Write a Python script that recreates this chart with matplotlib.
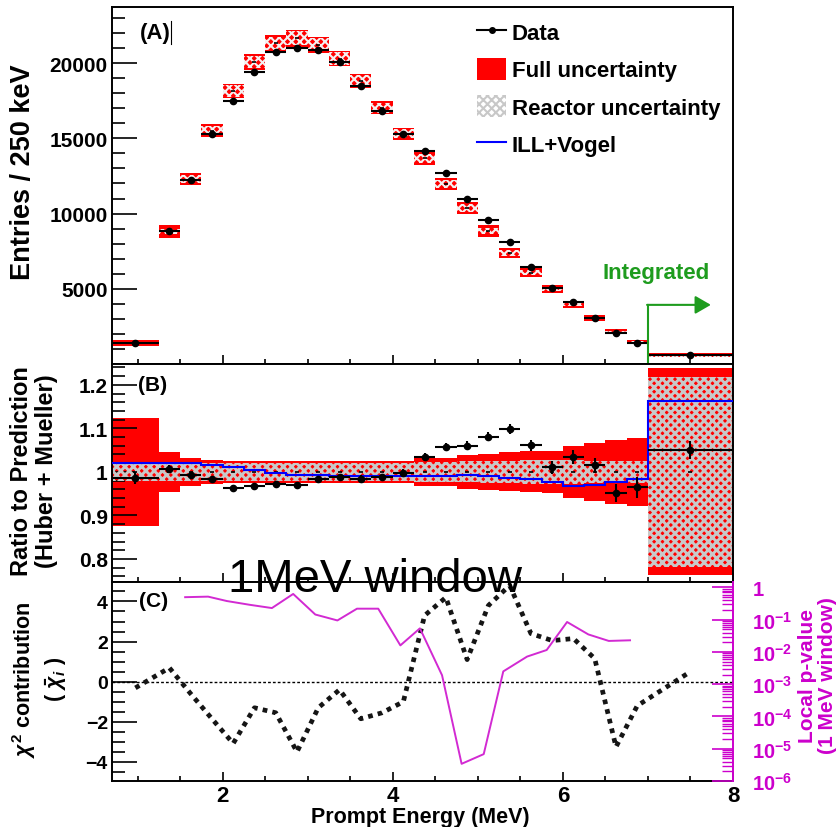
import matplotlib
matplotlib.use('Agg')
import matplotlib.pyplot as plt
import numpy as np
from matplotlib.lines import Line2D
from matplotlib.patches import Patch
from matplotlib.ticker import MultipleLocator, FixedLocator, LogLocator, FuncFormatter, NullFormatter

plt.rcParams['font.family'] = ['Liberation Sans', 'DejaVu Sans']
plt.rcParams['font.weight'] = 'bold'
plt.rcParams['mathtext.fontset'] = 'custom'
plt.rcParams['mathtext.rm'] = 'Liberation Sans:bold'
plt.rcParams['mathtext.bf'] = 'Liberation Sans:bold'
plt.rcParams['mathtext.it'] = 'Liberation Sans:italic'
plt.rcParams['hatch.linewidth'] = 1.5
plt.rcParams['axes.linewidth'] = 1.4

# binning: wide first bin, 250 keV bins up to 7 MeV, one integrated bin 7-8 MeV
bin_edges = np.concatenate([[0.7], np.arange(1.25, 7.01, 0.25), [8.0]])
centers = (bin_edges[:-1] + bin_edges[1:]) / 2
half_w = np.diff(bin_edges) / 2

data_counts = [1380, 8870, 12200, 15270, 17470, 19420, 20710, 20980, 20890, 20050,
               18490, 16820, 15270, 14150, 12670, 11000, 9560, 8090, 6450, 5050,
               4090, 3090, 2050, 1420, 600]
ratio = [0.986, 1.007, 0.993, 0.984, 0.963, 0.967, 0.972, 0.969, 0.984, 0.988,
         0.984, 0.988, 0.997, 1.035, 1.057, 1.060, 1.081, 1.098, 1.061, 1.011,
         1.034, 1.015, 0.951, 0.965, 1.050]
ratio_err = [0.013, 0.008, 0.007, 0.007, 0.007, 0.007, 0.007, 0.007, 0.007, 0.007,
             0.008, 0.008, 0.009, 0.009, 0.010, 0.010, 0.011, 0.012, 0.013, 0.015,
             0.016, 0.018, 0.021, 0.024, 0.021]
full_unc = [0.125, 0.046, 0.032, 0.028, 0.026, 0.026, 0.026, 0.026, 0.025, 0.025,
            0.025, 0.025, 0.026, 0.033, 0.033, 0.039, 0.042, 0.045, 0.047, 0.049,
            0.059, 0.067, 0.073, 0.079, 0.238]
reactor_unc = [0.021, 0.021, 0.021, 0.021, 0.021, 0.021, 0.021, 0.021, 0.021, 0.021,
               0.021, 0.021, 0.021, 0.023, 0.023, 0.024, 0.025, 0.026, 0.027, 0.027,
               0.027, 0.026, 0.026, 0.025, 0.218]
ill_vogel = [1.020, 1.020, 1.020, 1.016, 1.011, 1.005, 0.998, 0.993, 0.992, 0.991,
             0.990, 0.990, 0.990, 0.990, 0.990, 0.993, 0.990, 0.987, 0.984, 0.976,
             0.967, 0.970, 0.976, 0.984, 1.164]
chi_i = [-0.31, 0.69, -0.6, -1.85, -3.08, -1.3, -1.55, -3.5, -1.3, -0.4,
         -1.85, -1.55, -1.0, 3.3, 4.2, 1.1, 3.8, 4.8, 2.4, 2.05,
         2.15, 1.15, -3.25, -1.2, 0.5]
window_center = [1.56, 1.83, 2.05, 2.32, 2.58, 2.83, 3.09, 3.35, 3.58, 3.83, 4.09,
                 4.32, 4.58, 4.81, 5.07, 5.30, 5.58, 5.81, 6.05, 6.30, 6.54, 6.79]
local_p = [0.50, 0.52, 0.38, 0.29, 0.23, 0.63, 0.145, 0.095, 0.22, 0.22, 0.016,
           0.054, 0.0019, 3.4e-6, 6.8e-6, 0.0025, 0.0072, 0.0115, 0.085, 0.035,
           0.022, 0.023]

data_counts = np.array(data_counts, dtype=float)
ratio = np.array(ratio)
full_unc = np.array(full_unc)
reactor_unc = np.array(reactor_unc)
pred = data_counts / ratio
widths = np.diff(bin_edges)

mag = '#cc00cc'
green = '#1e9c1e'
hatch_grey = '#c8c8c8'

fig = plt.figure(figsize=(8.37, 8.28), dpi=100)
axA = fig.add_axes([0.1338, 0.5592, 0.7419, 0.4311])
axB = fig.add_axes([0.1338, 0.2959, 0.7419, 0.2633])
axC = fig.add_axes([0.1338, 0.0556, 0.7419, 0.2403])


def style_axis(ax, ymaj, ymin, ysize):
    ax.set_xlim(0.7, 8.0)
    ax.xaxis.set_major_locator(MultipleLocator(2))
    ax.xaxis.set_minor_locator(MultipleLocator(0.5))
    ax.tick_params(axis='x', which='major', direction='in', length=6.5, width=1.2,
                   labelsize=16, pad=3)
    ax.tick_params(axis='x', which='minor', direction='in', length=3.6, width=1.2)
    ax.tick_params(axis='y', which='major', direction='in', length=18, width=1.2,
                   labelsize=ysize, pad=3)
    ax.tick_params(axis='y', which='minor', direction='in', length=9.5, width=1.2)
    ax.yaxis.set_major_locator(ymaj)
    ax.yaxis.set_minor_locator(ymin)


# (A) spectrum with prediction boxes
axA.bar(bin_edges[:-1], 2 * pred * full_unc, bottom=pred * (1 - full_unc), width=widths,
        align='edge', color='red', lw=0, zorder=1)
axA.bar(bin_edges[:-1], 2 * pred * reactor_unc, bottom=pred * (1 - reactor_unc), width=widths,
        align='edge', facecolor='none', edgecolor='#f4f0f0', hatch='xxxx', lw=0, zorder=2)
axA.plot(centers, pred, ls='none', marker='_', ms=3, mew=1.2, color='k', zorder=3)
axA.errorbar(centers, data_counts, xerr=half_w, fmt='o', ms=4.5, color='k',
             elinewidth=1.5, capsize=0, zorder=4)
axA.set_ylim(0, 23730)
style_axis(axA, FixedLocator([5000, 10000, 15000, 20000]), MultipleLocator(1000), 15)
axA.tick_params(labelbottom=False)
axA.text(0.045, 0.93, '(A)', transform=axA.transAxes, fontsize=16, va='center')
axA.plot([0.095, 0.095], [0.896, 0.961], transform=axA.transAxes, color='k', lw=0.8)

# integrated region marker
axA.plot([7.0, 7.0], [0, 3930], color=green, lw=1.5, zorder=5)
axA.annotate('', xy=(7.74, 3930), xytext=(6.99, 3930),
             arrowprops=dict(arrowstyle='-|>,head_length=0.95,head_width=0.55',
                             color=green, lw=1.5, shrinkA=0, shrinkB=0), zorder=5)
axA.text(6.47, 6070, 'Integrated', color=green, fontsize=16, va='center', ha='left')

handles = [Line2D([], [], color='k', marker='o', ms=4, lw=1.5),
           Patch(facecolor='red', edgecolor='red', lw=0),
           Patch(facecolor='white', edgecolor=hatch_grey, hatch='xxxx', lw=0),
           Line2D([], [], color='blue', lw=1.5)]
axA.legend(handles, ['Data', 'Full uncertainty', 'Reactor uncertainty', 'ILL+Vogel'],
           loc='upper left', bbox_to_anchor=(0.588, 0.962), frameon=False,
           fontsize=16, handlelength=1.3, handleheight=1.15, handletextpad=0.25,
           labelspacing=0.62, borderpad=0, borderaxespad=0)

# (B) ratio to Huber + Mueller prediction
axB.bar(bin_edges[:-1], 2 * full_unc, bottom=1 - full_unc, width=widths,
        align='edge', color='red', lw=0, zorder=1)
with plt.rc_context({'hatch.linewidth': 2.1}):
    axB.bar(bin_edges[:-1], 2 * reactor_unc, bottom=1 - reactor_unc, width=widths,
            align='edge', facecolor='none', edgecolor=hatch_grey, hatch='xxxx', lw=0, zorder=2)
axB.plot(centers, np.ones_like(centers), ls='none', marker='_', ms=3, mew=1.2,
         color='k', zorder=3)
axB.stairs(ill_vogel, bin_edges, color='blue', lw=1.5, baseline=None, zorder=4)
axB.errorbar(centers, ratio, xerr=half_w, yerr=ratio_err, fmt='o', ms=4.5, color='k',
             elinewidth=1.5, capsize=0, zorder=5)
axB.set_ylim(0.747, 1.248)
style_axis(axB, MultipleLocator(0.1), MultipleLocator(0.02), 15)
axB.yaxis.set_major_formatter(FuncFormatter(lambda v, p: f'{v:g}'))
axB.tick_params(labelbottom=False)
axB.text(0.042, 0.908, '(B)', transform=axB.transAxes, fontsize=15, va='center')

# (C) chi contributions and local p-value
axC.plot(centers, chi_i, color='#151515', lw=3.4, ls=(0, (1, 1.1)), zorder=3)
axC.axhline(0, color='k', lw=1, ls=(0, (2, 1.5)), zorder=2)
axC.set_ylim(-4.95, 4.97)
style_axis(axC, MultipleLocator(2), MultipleLocator(0.5), 14)
axC.spines['right'].set_visible(False)
axC.text(0.043, 0.905, '(C)', transform=axC.transAxes, fontsize=15, va='center')

axR = axC.twinx()
axR.set_yscale('log')
axR.plot(window_center, local_p, color='#d22ad2', lw=1.4)
axR.set_ylim(1e-6, 10 ** 0.17)
axR.yaxis.set_major_locator(LogLocator(base=10, numticks=12))
axR.yaxis.set_minor_locator(LogLocator(base=10, subs=np.arange(2, 10), numticks=12))
axR.yaxis.set_minor_formatter(NullFormatter())


def p_label(v, pos):
    e = int(round(np.log10(v)))
    if e == 0:
        return '1'
    return r'$\mathbf{10^{%d}}$' % e


axR.yaxis.set_major_formatter(FuncFormatter(p_label))
axR.tick_params(axis='y', which='major', direction='in', length=15, width=1.2,
                colors=mag, labelsize=14.5, pad=14)
axR.tick_params(axis='y', which='minor', direction='in', length=8, width=1.0, colors=mag)
axR.spines['right'].set_color(mag)
axR.spines['right'].set_linewidth(1.4)
for s in ['left', 'top', 'bottom']:
    axR.spines[s].set_visible(False)

# axis titles
fig.text(0.027, 0.792, 'Entries / 250 keV', rotation=90, ha='center', va='center', fontsize=19.5)
fig.text(0.041, 0.431, 'Ratio to Prediction\n(Huber + Mueller)', rotation=90,
         ha='center', va='center', fontsize=17, linespacing=1.1)
fig.text(0.047, 0.179, '$\\chi^{2}$ contribution\n$(\\ \\bar{\\chi}_{i}\\ )$', rotation=90,
         ha='center', va='center', fontsize=15.5, linespacing=1.3)
fig.text(0.977, 0.1836, 'Local p-value\n(1 MeV window)', rotation=90, ha='center',
         va='center', fontsize=15, color=mag, linespacing=1.05)
fig.text(0.502, 0.013, 'Prompt Energy (MeV)', ha='center', va='center', fontsize=15.5)
fig.text(0.272, 0.285, '1MeV window', ha='left', va='baseline', fontsize=34,
         fontweight='normal')

fig.savefig('out.png', dpi=100)
